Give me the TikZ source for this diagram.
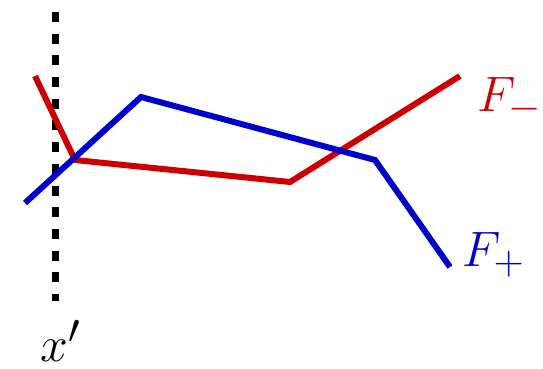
\documentclass[tikz,border=0pt]{standalone}
\usepackage{xcolor}
\usepackage{tikz}
\usepackage{amsmath}
\usetikzlibrary{positioning,calc}
\definecolor{fmRed}{HTML}{CC0000}
\definecolor{fmBlue}{HTML}{0000CC}
\tikzset{
  fline/.style={line width=3pt, line join=miter},
  minusline/.style={fline, draw=fmRed},
  plusline/.style={fline, draw=fmBlue},
  cutline/.style={line width=3.5pt, black, dash pattern=on 5pt off 5.85pt},
  flabel/.style={inner sep=0pt, font=\fontsize{27.5}{30}\selectfont}
}
\begin{document}
\begin{tikzpicture}[x=0.5pt, y=-0.5pt]
  \useasboundingbox (0,0) rectangle (543,369);
  % vertical cut at x'
  \coordinate (cTop) at (56,12);
  \coordinate (cBot) at (56,301);
  \draw[cutline] (cTop) -- (cBot);
  \node[flabel, anchor=base] (xlab) at (61,362) {$x'$};
  % F_- curve
  \coordinate (m0) at (35,76);
  \coordinate (m1) at (75,160);
  \coordinate (m2) at (290,182);
  \coordinate (m3) at (460,76);
  \draw[minusline] (m0) -- (m1) -- (m2) -- (m3);
  \node[flabel, anchor=base west, text=fmRed] (mlab) at (477,112) {$F_-$};
  % F_+ curve
  \coordinate (p0) at (25,203);
  \coordinate (p1) at (141,97);
  \coordinate (p2) at (375,160);
  \coordinate (p3) at (450,267);
  \draw[plusline] (p0) -- (p1) -- (p2) -- (p3);
  \node[flabel, anchor=base west, text=fmBlue] (plab) at (462,267) {$F_+$};
\end{tikzpicture}
\end{document}
